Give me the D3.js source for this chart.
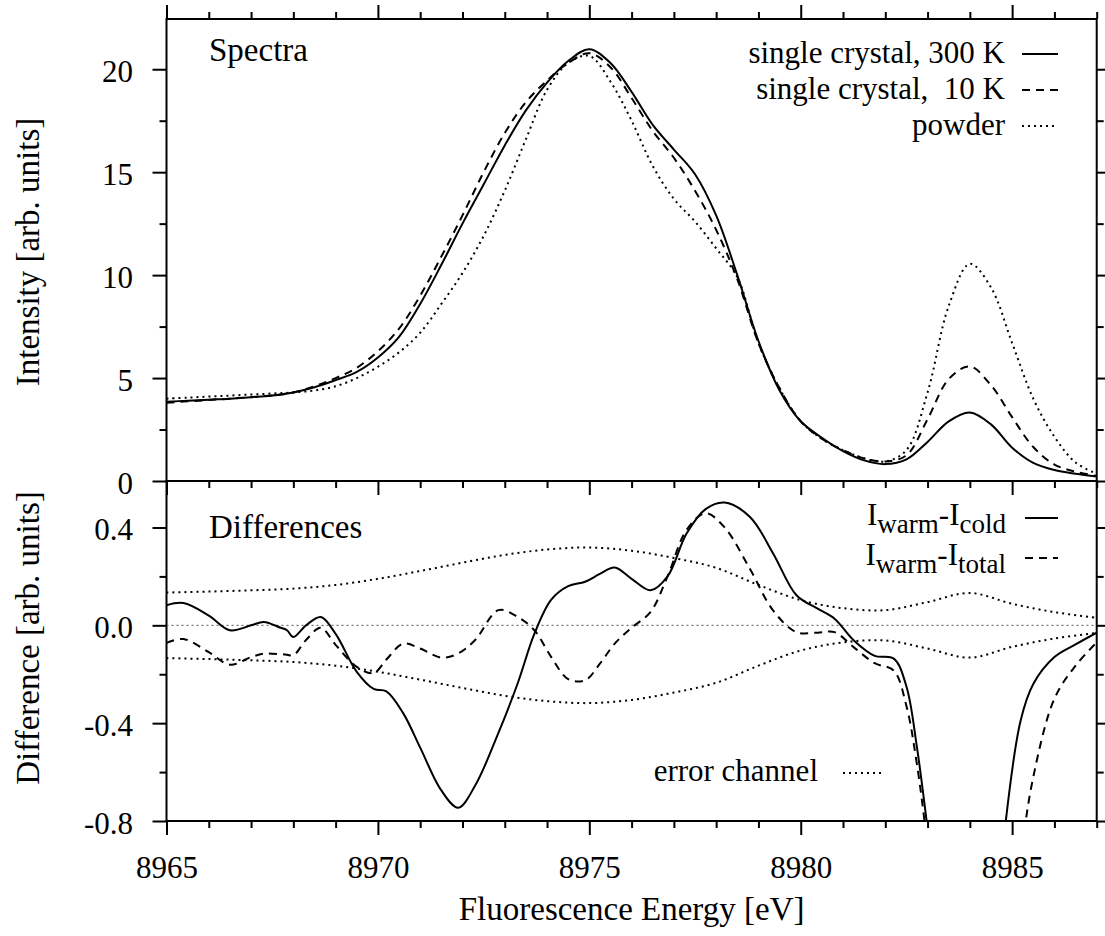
<!DOCTYPE html>
<html>
<head>
<meta charset="utf-8">
<script src="https://cdn.jsdelivr.net/npm/d3@7"></script>
<style>
  body { margin: 0; background: #fff; }
  svg text { font-family: "Liberation Serif", "Times New Roman", Tinos, "DejaVu Serif", "Noto Serif", serif; fill: #000; }
</style>
</head>
<body>
<div id="chart"></div>
<script>
// ---- data ----
// top panel: spectra
var energy = [8965, 8965.5, 8966, 8966.5, 8967, 8967.5, 8968, 8968.5, 8969, 8969.5,
  8970, 8970.5, 8971, 8971.5, 8972, 8972.5, 8973, 8973.5, 8974, 8974.5,
  8975, 8975.5, 8976, 8976.5, 8977, 8977.5, 8978, 8978.5, 8979, 8979.5,
  8980, 8980.5, 8981, 8981.5, 8982, 8982.5, 8983, 8983.5, 8984, 8984.5,
  8985, 8985.5, 8986, 8986.5, 8987];
var crystal300K = [3.85, 3.9, 3.95, 4.0, 4.07, 4.15, 4.3, 4.55, 4.9, 5.3,
  6.0, 7.0, 8.6, 10.5, 12.5, 14.4, 16.3, 18.0, 19.35, 20.4,
  20.97, 20.3, 18.9, 17.3, 16.1, 14.9, 12.9, 10.0, 6.8, 4.4,
  2.9, 2.1, 1.45, 1.0, 0.82, 1.05, 1.9, 2.9, 3.33, 2.75,
  1.62, 0.88, 0.53, 0.35, 0.22];
var crystal10K = [3.8, 3.87, 3.93, 4.0, 4.07, 4.15, 4.3, 4.6, 5.0, 5.5,
  6.3, 7.4, 9.0, 10.9, 12.9, 15.0, 16.9, 18.4, 19.45, 20.3,
  20.78, 20.1, 18.6, 17.0, 15.7, 14.1, 12.2, 9.8, 6.7, 4.5,
  2.9, 2.05, 1.5, 1.1, 0.95, 1.25, 3.0, 4.95, 5.56, 4.65,
  3.1, 1.65, 0.8, 0.45, 0.25];
var powder = [4.0, 4.05, 4.1, 4.15, 4.2, 4.25, 4.3, 4.4, 4.6, 5.0,
  5.55, 6.25, 7.2, 8.6, 10.1, 11.9, 14.1, 16.6, 19.0, 20.3,
  20.65, 19.4, 17.5, 15.3, 13.7, 12.6, 11.3, 9.9, 6.7, 4.5,
  2.9, 2.05, 1.5, 1.1, 0.95, 1.5, 4.3, 8.5, 10.55, 9.4,
  6.7, 4.0, 2.15, 0.9, 0.35];

// bottom panel: differences
var diffEnergy = [8965, 8965.4, 8966, 8966.5, 8967, 8967.3, 8967.7, 8967.85, 8968, 8968.3,
  8968.65, 8969, 8969.5, 8969.9, 8970.2, 8970.6, 8971, 8971.5, 8971.9, 8972.3,
  8972.85, 8973.3, 8973.7, 8974.1, 8974.5, 8974.9, 8975.25, 8975.6, 8976, 8976.45,
  8976.85, 8977.3, 8977.75, 8978.2, 8978.8, 8979.35, 8979.9, 8980.4, 8980.8, 8981.25,
  8981.75, 8982.2, 8982.5, 8982.75, 8983, 8983.5, 8984, 8984.5, 8984.85, 8985.2,
  8985.5, 8986, 8986.5, 8987];
var warmCold = [0.082, 0.091, 0.04, -0.02, 0.0, 0.014, -0.01, -0.02, -0.048, 0.0,
  0.034, -0.035, -0.19, -0.26, -0.27, -0.36, -0.5, -0.675, -0.746, -0.655,
  -0.44, -0.24, -0.035, 0.105, 0.16, 0.178, 0.21, 0.236, 0.19, 0.143,
  0.2, 0.375, 0.475, 0.502, 0.443, 0.293, 0.123, 0.068, 0.027, -0.061,
  -0.125, -0.136, -0.25, -0.5, -0.83, -1.5, -1.9, -1.5, -0.8, -0.39,
  -0.24, -0.13, -0.078, -0.03];
var warmTotal = [-0.072, -0.056, -0.11, -0.161, -0.13, -0.116, -0.118, -0.12, -0.123, -0.06,
  -0.01, -0.08, -0.17, -0.195, -0.14, -0.075, -0.095, -0.132, -0.115, -0.06,
  0.062, 0.035, -0.02, -0.13, -0.22, -0.225, -0.157, -0.075, -0.01, 0.055,
  0.2, 0.39, 0.458, 0.4, 0.23, 0.06, -0.028, -0.03, -0.028, -0.089,
  -0.155, -0.185, -0.33, -0.57, -0.9, -1.6, -2.0, -1.9, -1.4, -0.95,
  -0.62, -0.3, -0.165, -0.07];

var errEnergy = [8965, 8966, 8967, 8968, 8969, 8970, 8971, 8972, 8973, 8974, 8975,
  8976, 8977, 8978, 8979, 8980, 8981, 8982, 8983, 8984, 8985, 8986, 8987];
var errorChannel = [0.134, 0.138, 0.143, 0.15, 0.165, 0.19, 0.222, 0.256, 0.288, 0.31, 0.318,
  0.305, 0.275, 0.235, 0.165, 0.103, 0.07, 0.062, 0.095, 0.132, 0.088, 0.054, 0.031];

var xTicks = [8965, 8970, 8975, 8980, 8985];
var xMinor = [8966, 8967, 8968, 8969, 8971, 8972, 8973, 8974, 8976, 8977, 8978, 8979,
  8981, 8982, 8983, 8984, 8986, 8987];
var spectraTicks = [0, 5, 10, 15, 20];
var spectraMinor = [2.5, 7.5, 12.5, 17.5];
var diffTicks = [-0.8, -0.4, 0.0, 0.4];
var diffMinor = [-0.6, -0.2, 0.2];

// ---- layout ----
var svgWidth = 1105, svgHeight = 936;
var left = 166.5, right = 1096.7;
var top1 = 19, mid = 481, bottom2 = 821;
var major = 14, minor = 7;
var serif = "'Liberation Serif', 'Times New Roman', Tinos, 'DejaVu Serif', 'Noto Serif', serif";

var svg = d3.select("#chart").append("svg")
  .attr("width", svgWidth)
  .attr("height", svgHeight);

var x = d3.scaleLinear().domain([8965, 8987]).range([left, right]);
var ySpec = d3.scaleLinear().domain([0, 22.44]).range([mid, top1]);
var yDiff = d3.scaleLinear().domain([-0.8, 0.59]).range([bottom2, mid]);

// clip paths for both panels
var defs = svg.append("defs");
defs.append("clipPath").attr("id", "clipTop").append("rect")
  .attr("x", left).attr("y", top1).attr("width", right - left).attr("height", mid - top1);
defs.append("clipPath").attr("id", "clipBot").append("rect")
  .attr("x", left).attr("y", mid).attr("width", right - left).attr("height", bottom2 - mid);

function styleAxis(g) {
  g.attr("font-family", serif).attr("font-size", 31);
  g.select(".domain").remove();
  g.selectAll("line").attr("stroke", "#000").attr("stroke-width", 2);
  g.selectAll("text").style("font-size", "31px").style("font-family", serif);
}

function addAxis(axis, tx, ty, labels) {
  var g = svg.append("g").attr("transform", `translate(${tx},${ty})`).call(axis);
  styleAxis(g);
  if (!labels) g.selectAll("text").remove();
  return g;
}

// x axes: top of spectra, boundary, bottom of differences
addAxis(d3.axisTop(x).tickValues(xTicks).tickSize(major), 0, top1, false);
addAxis(d3.axisTop(x).tickValues(xMinor).tickSize(minor), 0, top1, false);
addAxis(d3.axisBottom(x).tickValues(xTicks).tickSize(major), 0, mid, false);
addAxis(d3.axisBottom(x).tickValues(xMinor).tickSize(minor), 0, mid, false);
var xb = addAxis(d3.axisBottom(x).tickValues(xTicks).tickSize(major).tickFormat(d3.format("d")), 0, bottom2, true);
xb.selectAll("text").attr("dy", null).attr("y", 57);
addAxis(d3.axisBottom(x).tickValues(xMinor).tickSize(minor), 0, bottom2, false);

// y axes
var yl1 = addAxis(d3.axisLeft(ySpec).tickValues(spectraTicks).tickSize(major).tickPadding(19.5), left, 0, true);
yl1.selectAll("text").attr("dy", "0.4em");
addAxis(d3.axisLeft(ySpec).tickValues(spectraMinor).tickSize(minor), left, 0, false);
addAxis(d3.axisRight(ySpec).tickValues(spectraTicks).tickSize(major), right, 0, false);
addAxis(d3.axisRight(ySpec).tickValues(spectraMinor).tickSize(minor), right, 0, false);

var yl2 = addAxis(d3.axisLeft(yDiff).tickValues(diffTicks).tickSize(major).tickPadding(19.5)
  .tickFormat(d => d.toFixed(1)), left, 0, true);
yl2.selectAll("text").attr("dy", "0.4em");
addAxis(d3.axisLeft(yDiff).tickValues(diffMinor).tickSize(minor), left, 0, false);
addAxis(d3.axisRight(yDiff).tickValues(diffTicks).tickSize(major), right, 0, false);
addAxis(d3.axisRight(yDiff).tickValues(diffMinor).tickSize(minor), right, 0, false);

// frames
[[top1, mid], [mid, bottom2]].forEach(function(p) {
  svg.append("rect")
    .attr("x", left).attr("y", p[0])
    .attr("width", right - left).attr("height", p[1] - p[0])
    .attr("fill", "none").attr("stroke", "#000").attr("stroke-width", 2);
});

var dashes = { solid: null, dashed: "8,6", dotted: "2,4" };

function drawLine(xs, ys, yScale, clip, style) {
  var pts = xs.map((e, i) => [e, ys[i]]);
  var line = d3.line()
    .x(d => x(d[0]))
    .y(d => yScale(d[1]))
    .curve(d3.curveCatmullRom.alpha(0.5));
  svg.append("path")
    .datum(pts)
    .attr("clip-path", `url(#${clip})`)
    .attr("d", line)
    .attr("fill", "none")
    .attr("stroke", "#000")
    .attr("stroke-width", 2)
    .attr("stroke-dasharray", dashes[style]);
}

// spectra
drawLine(energy, crystal300K, ySpec, "clipTop", "solid");
drawLine(energy, crystal10K, ySpec, "clipTop", "dashed");
drawLine(energy, powder, ySpec, "clipTop", "dotted");

// zero line
svg.append("line")
  .attr("x1", left).attr("x2", right)
  .attr("y1", yDiff(0)).attr("y2", yDiff(0))
  .attr("stroke", "#555").attr("stroke-width", 1)
  .attr("stroke-dasharray", "2,3");

// differences
drawLine(errEnergy, errorChannel, yDiff, "clipBot", "dotted");
drawLine(errEnergy, errorChannel.map(v => -v), yDiff, "clipBot", "dotted");
drawLine(diffEnergy, warmCold, yDiff, "clipBot", "solid");
drawLine(diffEnergy, warmTotal, yDiff, "clipBot", "dashed");

function label(xp, yp, size, str, anchor) {
  return svg.append("text")
    .attr("x", xp).attr("y", yp)
    .attr("text-anchor", anchor || "start")
    .style("font-family", serif)
    .style("font-size", size + "px")
    .style("white-space", "pre")
    .text(str);
}

// panel titles
label(209, 61, 33, "Spectra");
label(209, 538, 33, "Differences");

// legends
function legendSample(x1, x2, y, style) {
  svg.append("line")
    .attr("x1", x1).attr("x2", x2).attr("y1", y).attr("y2", y)
    .attr("stroke", "#000").attr("stroke-width", 2)
    .attr("stroke-dasharray", dashes[style]);
}

var specLegend = [
  { label: "single crystal, 300 K", style: "solid", y: 63 },
  { label: "single crystal,  10 K", style: "dashed", y: 99 },
  { label: "powder", style: "dotted", y: 135 }
];
specLegend.forEach(function(d) {
  label(1005, d.y, 31, d.label, "end");
  legendSample(1022, 1058, d.y - 9, d.style);
});

var diffLegend = [
  { sub1: "warm", sub2: "cold", style: "solid", y: 525 },
  { sub1: "warm", sub2: "total", style: "dashed", y: 565 }
];
diffLegend.forEach(function(d) {
  var t = label(1006, d.y, 31, "", "end");
  t.append("tspan").text("I");
  t.append("tspan").attr("dy", 8).style("font-size", "27px").text(d.sub1);
  t.append("tspan").attr("dy", -8).text("-I");
  t.append("tspan").attr("dy", 8).style("font-size", "27px").text(d.sub2);
  legendSample(1025, 1058, d.y - 7, d.style);
});

label(818, 781, 31, "error channel", "end");
legendSample(843, 885, 773, "dotted");

// axis titles
label((left + right) / 2, 920, 33, "Fluorescence Energy [eV]", "middle");

svg.append("text")
  .attr("transform", `translate(39, ${(top1 + mid) / 2 + 2}) rotate(-90)`)
  .attr("text-anchor", "middle")
  .style("font-family", serif)
  .style("font-size", "33px")
  .text("Intensity [arb. units]");

svg.append("text")
  .attr("transform", `translate(39, ${(mid + bottom2) / 2 - 13}) rotate(-90)`)
  .attr("text-anchor", "middle")
  .style("font-family", serif)
  .style("font-size", "33px")
  .text("Difference [arb. units]");
</script>
</body>
</html>
